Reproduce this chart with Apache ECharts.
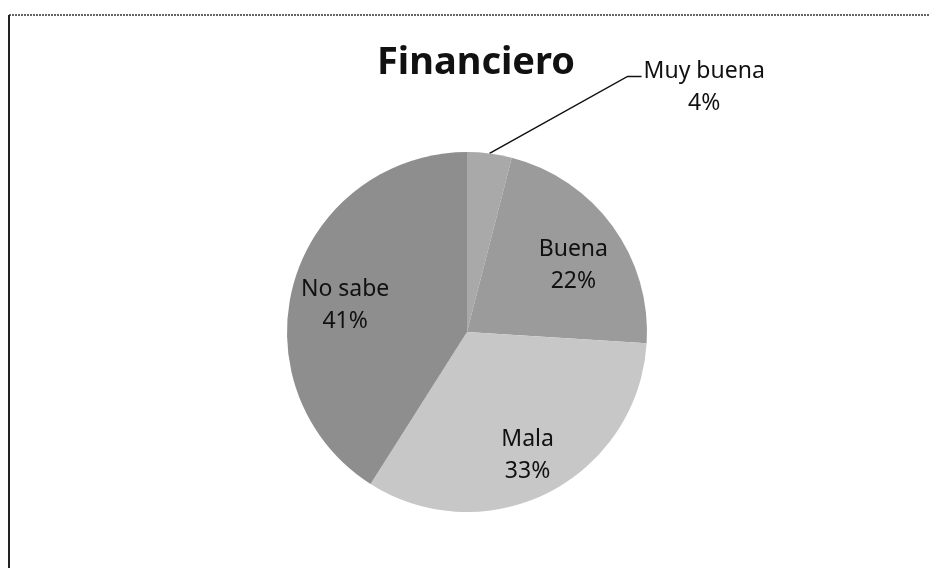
<!DOCTYPE html>
<html>
<head>
<meta charset="utf-8">
<script src="https://cdn.jsdelivr.net/npm/echarts@6/dist/echarts.min.js"></script>
<style>
    html, body { margin: 0; padding: 0; background: #fff; }
    #Echarts1 { width: 929px; height: 568px; }
</style>
</head>
<body>
<div id="Echarts1"></div>
<script>
'use strict';
// datos del grafico
var chartTitle = 'Financiero';
var categories = ['Muy buena', 'Buena', 'Mala', 'No sabe'];
var percentValues = [4, 22, 33, 41];
var sliceColors = ['#a9a9a9', '#9b9b9b', '#c7c7c7', '#8e8e8e'];

var myChart1 = echarts.init(document.getElementById('Echarts1'));

function loadCharts1 () {
    var pieData = categories.map(function (name, i) {
        return { name: name, value: percentValues[i], itemStyle: { color: sliceColors[i] } };
    });

    // serie transparente solo para las etiquetas (a 0.7 del radio, como Excel)
    var labelData = categories.map(function (name, i) {
        var item = { name: name, value: percentValues[i] };
        if (i === 0) {
            item.label = { position: 'outside', offset: [0, 0] };
            item.labelLine = { show: true, length: 20, length2: 10 };
        }
        return item;
    });

    var option = {
        backgroundColor: '#fff',
        animation: false,
        title: {
            text: chartTitle,
            left: 471,
            top: 39,
            textAlign: 'center',
            textStyle: {
                fontFamily: 'Noto Sans',
                fontWeight: 'bold',
                fontSize: 38,
                color: '#111'
            }
        },
        graphic: [
            {
                type: 'line',
                shape: { x1: 9, y1: 15, x2: 929, y2: 15 },
                style: { stroke: '#333', lineWidth: 1.5, lineDash: [2, 1] }
            },
            {
                type: 'line',
                shape: { x1: 9, y1: 15, x2: 9, y2: 568 },
                style: { stroke: '#222', lineWidth: 2 }
            }
        ],
        series: [
            {
                type: 'pie',
                center: [467, 332],
                radius: 180,
                startAngle: 90,
                clockwise: true,
                silent: true,
                label: { show: false },
                labelLine: { show: false },
                itemStyle: { borderWidth: 0 },
                data: pieData
            },
            {
                type: 'pie',
                center: [467, 332],
                radius: [72, 180],
                startAngle: 90,
                clockwise: true,
                silent: true,
                itemStyle: { color: 'rgba(0,0,0,0)', borderWidth: 0 },
                label: {
                    show: true,
                    position: 'inside',
                    formatter: '{b}\n{c}%',
                    fontFamily: 'Noto Sans',
                    fontSize: 23,
                    lineHeight: 32,
                    offset: [2, 9],
                    color: '#111'
                },
                labelLine: {
                    lineStyle: { color: '#111', width: 1.5 }
                },
                labelLayout: function (params) {
                    if (params.dataIndex !== 0 || !params.labelLinePoints) return {};
                    var p0 = params.labelLinePoints[0];
                    var p1 = [p0[0] + 138, p0[1] - 77];
                    var p2 = [p1[0] + 14, p1[1]];
                    return {
                        x: p2[0] + 2 + params.labelRect.width / 2,
                        y: p2[1] - 21,
                        align: 'center',
                        verticalAlign: 'top',
                        labelLinePoints: [p0, p1, p2]
                    };
                },
                data: labelData
            }
        ]
    };
    myChart1.setOption(option);
}

loadCharts1();
</script>
</body>
</html>
